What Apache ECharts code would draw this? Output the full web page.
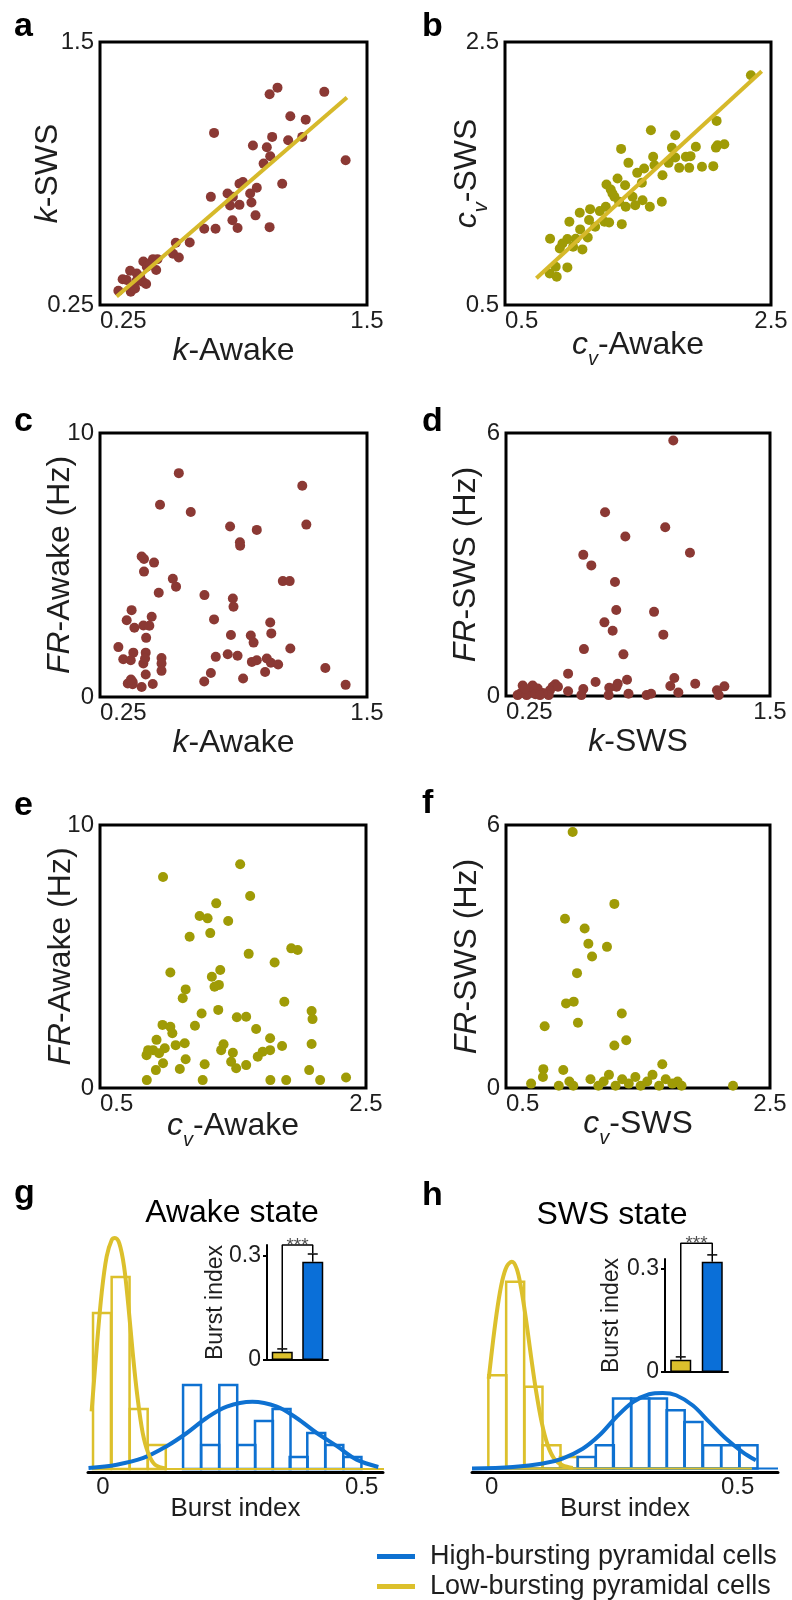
<!DOCTYPE html>
<html><head><meta charset="utf-8">
<script src="https://cdn.jsdelivr.net/npm/echarts@6/dist/echarts.min.js"></script>
<style>html,body{margin:0;padding:0;background:#fff}#c{width:792px;height:1600px}</style>
</head><body><div id="c"></div>
<script>
// ---------------- DATA ----------------
// a: k-Awake vs k-SWS
const kAwake_kSWS = [[1.044,1.252],[1.081,1.283],[1.300,1.263],[1.141,1.147],[1.213,1.131],[0.784,1.068],[1.056,1.049],[1.131,1.033],[1.197,1.049],[0.966,1.008],[1.031,1.000],[1.047,0.957],[1.400,0.938],[1.016,0.922],[1.103,0.826],[0.903,0.826],[0.919,0.835],[0.984,0.807],[0.953,0.780],[0.769,0.764],[0.847,0.780],[0.872,0.764],[0.859,0.723],[0.903,0.726],[0.959,0.737],[0.978,0.676],[0.870,0.653],[0.894,0.616],[1.044,0.620],[0.738,0.612],[0.791,0.612],[0.670,0.547],[0.605,0.546],[0.592,0.494],[0.619,0.476],[0.498,0.468],[0.519,0.468],[0.453,0.457],[0.483,0.448],[0.513,0.416],[0.469,0.432],[0.391,0.413],[0.356,0.372],[0.422,0.400],[0.450,0.361],[0.466,0.350],[0.406,0.340],[0.336,0.318],[0.394,0.313],[0.438,0.384],[0.375,0.369],[0.422,0.366],[0.484,0.440],[0.414,0.329]];
const fitA = [[0.328,0.290],[1.406,1.236]];
// b: cv-Awake vs cv-SWS
const cvAwake_cvSWS = [[2.349,2.247],[2.091,1.900],[1.597,1.829],[1.780,1.791],[2.098,1.715],[2.149,1.723],[2.086,1.697],[1.373,1.687],[1.755,1.695],[1.935,1.703],[1.614,1.627],[1.780,1.622],[1.860,1.627],[1.895,1.632],[1.428,1.581],[1.730,1.581],[1.624,1.563],[1.810,1.543],[1.885,1.543],[1.981,1.551],[2.066,1.556],[1.546,1.538],[1.494,1.505],[1.684,1.487],[1.346,1.462],[1.529,1.429],[1.263,1.416],[1.403,1.411],[1.295,1.378],[1.323,1.323],[1.459,1.323],[1.534,1.297],[1.679,1.285],[1.358,1.285],[1.408,1.247],[1.479,1.259],[1.258,1.247],[1.140,1.229],[1.213,1.214],[1.062,1.201],[1.589,1.247],[1.132,1.146],[1.248,1.133],[1.283,1.128],[0.984,1.133],[1.378,1.115],[1.178,1.095],[1.065,1.075],[1.122,1.014],[0.839,1.004],[0.969,1.001],[1.032,1.004],[0.932,0.968],[1.012,0.943],[1.082,0.923],[0.912,0.930],[0.881,0.791],[0.969,0.786],[0.836,0.740],[0.889,0.715],[1.308,1.348]];
const fitB = [[0.736,0.703],[2.430,2.277]];
// c: k-Awake vs FR-Awake
const kAwake_frAwake = [[0.619,8.48],[1.197,8.00],[0.531,7.28],[0.675,7.01],[0.859,6.46],[0.984,6.33],[1.216,6.53],[0.905,5.86],[0.906,5.73],[0.445,5.32],[0.456,5.23],[0.503,5.09],[0.456,4.75],[0.591,4.48],[0.606,4.18],[1.106,4.39],[1.138,4.39],[0.525,3.95],[0.739,3.86],[0.872,3.73],[0.875,3.42],[0.398,3.29],[0.375,2.91],[0.492,3.04],[0.784,2.94],[0.411,2.62],[0.453,2.71],[0.481,2.70],[1.047,2.82],[0.466,2.24],[0.863,2.35],[0.956,2.33],[0.969,2.06],[1.052,2.41],[0.336,1.89],[1.141,1.84],[0.406,1.68],[0.464,1.68],[0.359,1.43],[0.394,1.39],[0.538,1.48],[0.538,1.27],[0.453,1.27],[0.461,1.46],[0.792,1.52],[0.848,1.62],[0.894,1.56],[0.961,1.33],[0.984,1.39],[1.031,1.46],[1.050,1.30],[1.084,1.23],[1.305,1.10],[0.538,0.99],[0.464,0.85],[0.769,0.91],[0.738,0.59],[0.920,0.70],[1.023,0.95],[1.400,0.46],[0.380,0.51],[0.403,0.57],[0.403,0.48],[0.445,0.38],[0.497,0.49],[0.395,0.66]];
// d: k-SWS vs FR-SWS
const kSWS_frSWS = [[1.042,5.83],[0.719,4.19],[1.004,3.85],[0.815,3.64],[1.121,3.27],[0.616,3.22],[0.654,2.98],[0.766,2.60],[0.772,1.96],[0.951,1.92],[0.716,1.68],[0.755,1.49],[0.995,1.40],[0.619,1.07],[0.806,0.95],[0.544,0.51],[0.674,0.32],[0.823,0.37],[1.047,0.41],[1.146,0.28],[1.028,0.23],[1.284,0.22],[1.249,0.13],[1.257,0.02],[1.066,0.08],[0.779,0.28],[0.773,0.21],[0.739,0.19],[0.736,0.02],[0.830,0.05],[0.916,0.02],[0.937,0.05],[0.616,0.16],[0.607,0.02],[0.544,0.11],[0.484,0.27],[0.471,0.21],[0.458,0.13],[0.452,0.02],[0.424,0.07],[0.400,0.17],[0.376,0.24],[0.360,0.09],[0.329,0.24],[0.321,0.07],[0.305,0.02],[0.348,0.02],[0.389,0.04],[0.411,0.02],[0.496,0.21],[0.340,0.17]];
// e: cv-Awake vs FR-Awake
const cvAwake_frAwake = [[1.554,8.51],[0.974,8.02],[1.629,7.30],[1.374,7.02],[1.249,6.54],[1.309,6.45],[1.464,6.35],[1.174,5.75],[1.329,5.89],[1.618,5.10],[1.938,5.31],[1.986,5.25],[1.813,4.77],[1.029,4.39],[1.404,4.49],[1.341,4.23],[1.394,3.92],[1.361,3.85],[1.144,3.75],[1.122,3.41],[1.886,3.28],[1.389,2.97],[1.264,2.83],[2.091,2.93],[2.098,2.62],[1.529,2.69],[1.599,2.71],[0.970,2.40],[1.029,2.33],[1.044,2.08],[1.214,2.37],[1.674,2.24],[1.779,1.89],[1.869,1.60],[2.091,1.67],[0.925,1.83],[1.137,1.70],[1.069,1.63],[1.429,1.66],[1.411,1.44],[1.499,1.34],[0.899,1.44],[0.987,1.51],[0.850,1.25],[1.779,1.44],[1.723,1.38],[1.686,1.19],[0.862,1.44],[0.944,1.32],[1.144,1.09],[0.974,0.94],[1.287,0.90],[1.486,1.00],[1.599,0.87],[0.852,0.30],[1.272,0.30],[1.781,0.30],[1.900,0.30],[2.155,0.30],[2.350,0.40],[2.073,0.68],[1.524,0.75],[0.920,0.68],[1.100,0.72]];
// f: cv-SWS vs FR-SWS
const cvSWS_frSWS = [[1.005,5.84],[1.321,4.20],[0.947,3.86],[1.096,3.64],[1.124,3.29],[1.265,3.22],[1.152,3.00],[1.038,2.62],[0.955,1.93],[1.013,1.97],[1.377,1.70],[0.793,1.41],[1.045,1.49],[1.321,0.97],[1.411,1.09],[1.684,0.54],[0.783,0.43],[0.934,0.41],[0.69,0.10],[0.78,0.25],[0.90,0.05],[0.98,0.15],[1.01,0.05],[1.14,0.20],[1.20,0.05],[1.24,0.15],[1.28,0.30],[1.33,0.05],[1.38,0.20],[1.43,0.10],[1.48,0.25],[1.52,0.05],[1.57,0.15],[1.61,0.30],[1.66,0.05],[1.71,0.20],[1.76,0.10],[1.80,0.15],[1.83,0.05],[2.22,0.05]];

// g: Awake-state burst-index histograms (counts per bin)
const gBinWidth = 0.0346;
const gLowCenters = [-0.002, 0.034, 0.069, 0.104];
const gLowCounts = [13, 16, 5, 2];
const gHighCenters = [0.172, 0.207, 0.242, 0.277, 0.311, 0.345, 0.378, 0.412, 0.447, 0.482];
const gHighCounts = [7, 2, 7, 2, 4, 5, 1, 3, 2, 1];
const gLowFit = [[-0.022,4.8],[-0.012,10.2],[-0.0025,14.7],[0.007,17.7],[0.017,19.1],[0.023,19.25],[0.0315,18.8],[0.0406,16.9],[0.049,13.6],[0.0574,9.7],[0.0663,6.1],[0.0767,3.0],[0.0875,1.3],[0.1005,0.36],[0.123,0.05]];
const gHighFit = [[-0.028,0.08],[0.0265,0.36],[0.078,0.92],[0.123,1.9],[0.162,3.0],[0.200,4.25],[0.239,5.2],[0.2885,5.6],[0.336,5.2],[0.374,4.25],[0.413,3.0],[0.452,1.9],[0.490,0.78],[0.532,0.17]];
const gLowBase = [[-0.02,0],[0.545,0]];
const gInsetMean = [0.024, 0.284];
const gInsetErr = [0.008, 0.022];
const gBracket = [[0,0.034],[0,0.332],[1,0.332],[1,0.308]];
const gStars = [[0.5,0.332]];

// h: SWS-state burst-index histograms
const hBinWidth = 0.0366;
const hLowCenters = [0.0115, 0.0477, 0.085, 0.1216, 0.157];
const hLowCounts = [8, 16, 7, 2, 1];
const hHighCenters = [0.193, 0.230, 0.265, 0.302, 0.338, 0.374, 0.410, 0.448, 0.485, 0.522];
const hHighCounts = [1, 2, 6, 6, 6, 5, 4, 2, 2, 2];
const hLowFit = [[-0.006,7.7],[0.003,11.0],[0.012,13.85],[0.021,16.0],[0.0305,17.3],[0.041,17.7],[0.051,17.1],[0.060,15.4],[0.070,12.7],[0.080,9.6],[0.090,6.7],[0.102,3.9],[0.114,2.0],[0.127,0.86],[0.144,0.28],[0.165,0.06]];
const hHighFit = [[-0.04,0],[0.043,0.14],[0.104,0.43],[0.144,0.86],[0.185,1.7],[0.219,2.85],[0.253,4.4],[0.287,5.7],[0.320,6.37],[0.348,6.48],[0.375,6.28],[0.409,5.4],[0.442,4.0],[0.476,2.57],[0.510,1.42],[0.537,0.71]];
const hHighBase = [[-0.04,0],[0.582,0]];
const hLowBase = [[-0.006,0],[0.529,0]];
const hInsetMean = [0.036, 0.321];
const hInsetErr = [0.008, 0.020];
const hBracket = [[0,0.046],[0,0.375],[1,0.375],[1,0.343]];
const hStars = [[0.5,0.375]];

const legendNames = ['High-bursting pyramidal cells', 'Low-bursting pyramidal cells'];

// ---------------- STYLE ----------------
const FONT = '"Liberation Sans", Arial, Helvetica, sans-serif';
const INK = '#1e1e1e';
const BROWN = '#8B3934', OLIVE = '#9F9B06', GOLD = '#D6B92A', YEL = '#DCC02C', BLUE = '#0E71D1', BLUEFILL = '#0A6FD8';

const rich = {
  i: {fontFamily: FONT, fontSize: 32, fontStyle: 'italic', color: INK, lineHeight: 32, verticalAlign: 'top'},
  n: {fontFamily: FONT, fontSize: 32, color: INK, lineHeight: 32, verticalAlign: 'top'},
  s: {fontFamily: FONT, fontSize: 20, fontStyle: 'italic', color: INK, lineHeight: 32, verticalAlign: 'top', padding: [20, 0, 0, 0]}
};

const boxes = [
  {left: 100, top: 42, width: 267, height: 263},
  {left: 505, top: 42, width: 266, height: 263},
  {left: 100, top: 433, width: 267, height: 264},
  {left: 506, top: 433, width: 264, height: 263},
  {left: 100, top: 825, width: 266, height: 263},
  {left: 506, top: 825, width: 264, height: 263}
].map(g => Object.assign(g, {show: true, borderColor: '#000', borderWidth: 3, backgroundColor: 'transparent'}));
const grids = boxes.concat([
  {left: 88, top: 1229, width: 295, height: 243},
  {left: 267, top: 1245, width: 61, height: 115},
  {left: 472, top: 1235, width: 306, height: 237},
  {left: 665, top: 1259, width: 63, height: 113}
]);

function sx(gi, min, max, name, gap) {
  return {type: 'value', gridIndex: gi, min, max, interval: max - min, name, nameLocation: 'middle', nameGap: gap, nameMoveOverlap: false,
    nameTextStyle: {rich, fontSize: 32, fontFamily: FONT, color: INK},
    axisLine: {show: false}, axisTick: {show: false}, splitLine: {show: false},
    axisLabel: {fontSize: 24, fontFamily: FONT, color: INK, margin: 4, alignMinLabel: 'left'}};
}
function sy(gi, min, max, name, gap) {
  return {type: 'value', gridIndex: gi, min, max, interval: max - min, name, nameLocation: 'middle', nameGap: gap, nameMoveOverlap: false,
    nameTextStyle: {rich, fontSize: 32, fontFamily: FONT, color: INK},
    axisLine: {show: false}, axisTick: {show: false}, splitLine: {show: false},
    axisLabel: {fontSize: 24, fontFamily: FONT, color: INK, margin: 6}};
}
function hx(gi, min, max) {
  return {type: 'value', gridIndex: gi, min, max, name: 'Burst index', nameLocation: 'middle', nameGap: 24, nameMoveOverlap: false,
    nameTextStyle: {fontSize: 26, fontFamily: FONT, color: INK},
    axisLine: {show: true, onZero: false, lineStyle: {color: '#000', width: 3}}, axisTick: {show: false}, splitLine: {show: false},
    axisLabel: {customValues: [0, 0.5], fontSize: 24, fontFamily: FONT, color: INK, margin: 3}};
}
function hy(gi, min) { return {type: 'value', gridIndex: gi, min, max: 20, show: false}; }
function ix(gi) {
  return {type: 'value', gridIndex: gi, min: -0.5, max: 1.5, axisLine: {show: true, onZero: false, lineStyle: {color: '#000', width: 2}},
    axisTick: {show: false}, axisLabel: {show: false}, splitLine: {show: false}};
}
function iy(gi, max, gap) {
  return {type: 'value', gridIndex: gi, min: 0, max, name: 'Burst index', nameLocation: 'middle', nameGap: gap, nameMoveOverlap: false,
    nameTextStyle: {fontSize: 23, fontFamily: FONT, color: INK},
    axisLine: {show: true, onZero: false, lineStyle: {color: '#000', width: 2}},
    axisTick: {show: true, length: 4, customValues: [0, 0.3], lineStyle: {color: '#000', width: 2}},
    axisLabel: {customValues: [0, 0.3], fontSize: 23, fontFamily: FONT, color: INK, margin: 6}, splitLine: {show: false}};
}

const xAxis = [
  sx(0, 0.25, 1.5, '{i|k}{n|-Awake}', 30),
  sx(1, 0.5, 2.5, '{i|c}{s|v}{n|-Awake}', 24),
  sx(2, 0.25, 1.5, '{i|k}{n|-Awake}', 30),
  sx(3, 0.25, 1.5, '{i|k}{n|-SWS}', 30),
  sx(4, 0.5, 2.5, '{i|c}{s|v}{n|-Awake}', 22),
  sx(5, 0.5, 2.5, '{i|c}{s|v}{n|-SWS}', 20),
  hx(6, -0.029, 0.541), ix(7), hx(8, -0.04, 0.582), ix(9)
];
const yAxis = [
  sy(0, 0.25, 1.5, '{i|k}{n|-SWS}', 36),
  sy(1, 0.5, 2.5, '{i|c}{s|v}{n|-SWS}', 22),
  sy(2, 0, 10, '{i|FR}{n|-Awake (Hz)}', 24),
  sy(3, 0, 6, '{i|FR}{n|-SWS (Hz)}', 24),
  sy(4, 0, 10, '{i|FR}{n|-Awake (Hz)}', 23),
  sy(5, 0, 6, '{i|FR}{n|-SWS (Hz)}', 23),
  hy(6, -0.25), iy(7, 0.332, 40), hy(8, -0.29), iy(9, 0.329, 42)
];

function scatter(i, data, color) {
  return {type: 'scatter', xAxisIndex: i, yAxisIndex: i, data, symbolSize: 10, itemStyle: {color, opacity: 1}, z: 3};
}
function fitLine(i, data) {
  return {type: 'line', xAxisIndex: i, yAxisIndex: i, data, symbol: 'none', lineStyle: {color: GOLD, width: 4}, z: 4, silent: true};
}
function hist(i, centers, counts, width, color) {
  return {type: 'custom', xAxisIndex: i, yAxisIndex: i, data: centers.map((c, k) => [c, counts[k]]), encode: {x: 0, y: 1}, z: 2,
    renderItem: (p, api) => {
      const c = api.value(0), v = api.value(1);
      const a = api.coord([c - width / 2, 0]), b = api.coord([c + width / 2, v]);
      return {type: 'rect', shape: {x: a[0], y: b[1], width: b[0] - a[0], height: a[1] - b[1]}, style: {fill: 'none', stroke: color, lineWidth: 2.5}};
    }};
}
function curve(i, data, color, name) {
  return {type: 'line', name, xAxisIndex: i, yAxisIndex: i, data, smooth: 0.35, symbol: 'none', color, lineStyle: {color, width: 4}, z: 5, silent: true};
}
function base(i, data, color) {
  return {type: 'line', xAxisIndex: i, yAxisIndex: i, data, symbol: 'none', lineStyle: {color, width: 2}, z: 4, silent: true};
}
function insetBars(i, mean) {
  return {type: 'bar', xAxisIndex: i, yAxisIndex: i, barWidth: 21, z: 3,
    data: [{value: [0, mean[0]], itemStyle: {color: YEL}}, {value: [1, mean[1]], itemStyle: {color: BLUEFILL}}],
    itemStyle: {borderColor: '#000', borderWidth: 1.5}};
}
function errBars(i, mean, err) {
  return {type: 'custom', xAxisIndex: i, yAxisIndex: i, data: mean.map((m, k) => [k, m, err[k]]), encode: {x: 0, y: 1}, z: 4,
    renderItem: (p, api) => {
      const x = api.value(0), m = api.value(1), e = api.value(2);
      const b = api.coord([x, m]), t = api.coord([x, m + e]);
      return {type: 'group', children: [
        {type: 'line', shape: {x1: b[0], y1: b[1], x2: t[0], y2: t[1]}, style: {stroke: '#000', lineWidth: 1.5}},
        {type: 'line', shape: {x1: t[0] - 5, y1: t[1], x2: t[0] + 5, y2: t[1]}, style: {stroke: '#000', lineWidth: 1.5}}
      ]};
    }};
}
function bracket(i, data) {
  return {type: 'line', xAxisIndex: i, yAxisIndex: i, data, symbol: 'none', clip: false, lineStyle: {color: '#000', width: 1.5}, z: 4, silent: true};
}
function stars(i, data) {
  return {type: 'scatter', xAxisIndex: i, yAxisIndex: i, data, symbolSize: 0, clip: false, silent: true,
    label: {show: true, formatter: '***', position: 'top', distance: 0, offset: [0, 10], fontSize: 19, fontFamily: FONT, color: INK}};
}

const series = [
  scatter(0, kAwake_kSWS, BROWN), fitLine(0, fitA),
  scatter(1, cvAwake_cvSWS, OLIVE), fitLine(1, fitB),
  scatter(2, kAwake_frAwake, BROWN),
  scatter(3, kSWS_frSWS, BROWN),
  scatter(4, cvAwake_frAwake, OLIVE),
  scatter(5, cvSWS_frSWS, OLIVE),
  // g
  base(6, gLowBase, YEL),
  hist(6, gLowCenters, gLowCounts, gBinWidth, YEL),
  hist(6, gHighCenters, gHighCounts, gBinWidth, BLUE),
  curve(6, gHighFit, BLUE, legendNames[0]),
  curve(6, gLowFit, YEL, legendNames[1]),
  insetBars(7, gInsetMean), errBars(7, gInsetMean, gInsetErr), bracket(7, gBracket), stars(7, gStars),
  // h
  base(8, hHighBase, BLUE),
  base(8, hLowBase, YEL),
  hist(8, hLowCenters, hLowCounts, hBinWidth, YEL),
  hist(8, hHighCenters, hHighCounts, hBinWidth, BLUE),
  curve(8, hLowFit, YEL, legendNames[1]),
  curve(8, hHighFit, BLUE, legendNames[0]),
  insetBars(9, hInsetMean), errBars(9, hInsetMean, hInsetErr), bracket(9, hBracket), stars(9, hStars)
];

function label(t, x, y) {
  return {type: 'text', x, y, silent: true, style: {text: t, font: 'bold 34px ' + FONT, fill: '#000', textAlign: 'left', textVerticalAlign: 'middle', verticalAlign: 'middle'}};
}
function title(t, x, y) {
  return {type: 'text', x, y, silent: true, style: {text: t, font: '32px ' + FONT, fill: '#000', textAlign: 'center', textVerticalAlign: 'middle', verticalAlign: 'middle'}};
}

const option = {
  animation: false,
  backgroundColor: '#fff',
  grid: grids,
  xAxis, yAxis, series,
  legend: {
    data: [{name: legendNames[0], icon: 'rect', itemStyle: {color: BLUE}}, {name: legendNames[1], icon: 'rect', itemStyle: {color: YEL}}],
    orient: 'vertical', left: 377, top: 1543, padding: 0, itemWidth: 38, itemHeight: 5, itemGap: 3, selectedMode: false,
    textStyle: {fontSize: 27, fontFamily: FONT, color: INK, lineHeight: 27, padding: [0, 0, 0, 10]}
  },
  graphic: [
    label('a', 14, 27), label('b', 422, 27), label('c', 14, 422), label('d', 422, 422),
    label('e', 14, 806), label('f', 422, 804), label('g', 14, 1194), label('h', 422, 1196),
    title('Awake state', 232, 1213), title('SWS state', 612, 1215)
  ]
};
const chart = echarts.init(document.getElementById('c'), null, {renderer: 'canvas'});
chart.setOption(option);
</script></body></html>
